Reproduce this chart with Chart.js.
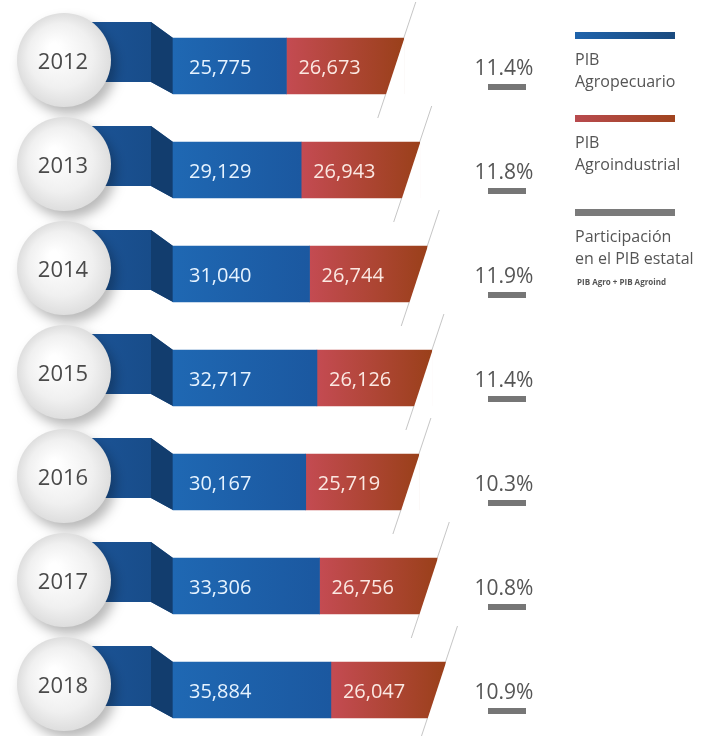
<!DOCTYPE html>
<html><head><meta charset="utf-8">
<script src="https://cdn.jsdelivr.net/npm/chart.js@4"></script>
<style>html,body{margin:0;padding:0;background:#fff;}#wrap{width:710px;height:736px;}</style>
</head><body><div id="wrap"><canvas id="c" width="710" height="736"></canvas></div>
<script>
const years = ['2012','2013','2014','2015','2016','2017','2018'];
const pibAgropecuario = [25775, 29129, 31040, 32717, 30167, 33306, 35884];
const pibAgroindustrial = [26673, 26943, 26744, 26126, 25719, 26756, 26047];
const participacion = [11.4, 11.8, 11.9, 11.4, 10.3, 10.8, 10.9];
const legendItems = [
  {lines:['PIB','Agropecuario'], c1:'#1f63ab', c2:'#1a4a7e'},
  {lines:['PIB','Agroindustrial'], c1:'#b84a4e', c2:'#a0441f'},
  {lines:['Participación','en el PIB estatal'], c1:'#7a7a7a', c2:'#7a7a7a', note:'PIB Agro + PIB Agroind'}
];
const FONT = '"Open Sans", "Noto Sans", sans-serif';
const fmt = v => v.toLocaleString('en-US');

function barGrad(ctx, startArr, lenArr, cA, cB, fallback){
  const chart = ctx.chart;
  if (!chart.chartArea || ctx.type !== 'data') return fallback;
  const xs = chart.scales.x, i = ctx.dataIndex;
  const s = startArr ? startArr[i] : 0;
  const x0 = xs.getPixelForValue(s), x1 = xs.getPixelForValue(s + lenArr[i]);
  const g = chart.ctx.createLinearGradient(x0, 0, x1, 0);
  g.addColorStop(0, cA); g.addColorStop(1, cB);
  return g;
}

const deco = {
  id: 'deco',
  beforeDatasetsDraw(chart){
    const c = chart.ctx;
    const meta = chart.getDatasetMeta(0);
    meta.data.forEach((b, i) => {
      const y = b.y, bt = y - 28, bb = y + 28, xs = b.base;
      const cx = 64, cy = y - 6, r = 47;
      c.save();
      // ribbon
      let g = c.createLinearGradient(cx, 0, xs, 0);
      g.addColorStop(0, '#1c569b'); g.addColorStop(1, '#174a85');
      c.fillStyle = g;
      c.beginPath();
      c.moveTo(cx, bt - 16); c.lineTo(xs - 22, bt - 16); c.lineTo(xs, bt);
      c.lineTo(xs, bb); c.lineTo(xs - 22, bb - 12); c.lineTo(cx, bb - 12);
      c.closePath(); c.fill();
      c.fillStyle = '#123d6e';
      c.beginPath();
      c.moveTo(xs - 22, bt - 16); c.lineTo(xs, bt); c.lineTo(xs, bb); c.lineTo(xs - 22, bb - 12);
      c.closePath(); c.fill();
      // circle
      c.shadowColor = 'rgba(0,0,0,0.28)';
      c.shadowBlur = 12; c.shadowOffsetX = 5; c.shadowOffsetY = 7;
      const rg = c.createRadialGradient(cx - 10, cy - 12, 5, cx, cy, r);
      rg.addColorStop(0, '#ffffff'); rg.addColorStop(0.65, '#f0f0f0'); rg.addColorStop(1, '#dedede');
      c.fillStyle = rg;
      c.beginPath(); c.arc(cx, cy, r, 0, Math.PI * 2); c.fill();
      c.shadowColor = 'transparent';
      c.fillStyle = '#4a4a4a';
      c.font = '22px ' + FONT;
      c.textAlign = 'center'; c.textBaseline = 'middle';
      c.fillText(years[i], cx - 1, cy + 3);
      c.restore();
    });
  },
  afterDatasetsDraw(chart){
    const c = chart.ctx;
    const m0 = chart.getDatasetMeta(0), m1 = chart.getDatasetMeta(1);
    m1.data.forEach((b, i) => {
      const y = b.y, bt = y - 28, bb = y + 28, xe = b.x;
      c.save();
      // slanted end
      c.fillStyle = '#ffffff';
      c.beginPath();
      c.moveTo(xe + 1, bt - 1); c.lineTo(xe + 1, bb + 1); c.lineTo(xe - 18, bb + 1);
      c.closePath(); c.fill();
      c.strokeStyle = 'rgba(150,150,150,0.55)'; c.lineWidth = 1;
      c.beginPath();
      c.moveTo(xe + 12, bt - 36); c.lineTo(xe, bt);
      c.moveTo(xe - 18, bb); c.lineTo(xe - 26, bb + 24);
      c.stroke();
      // values
      c.font = '20px ' + FONT;
      c.textAlign = 'left'; c.textBaseline = 'middle';
      const blue = m0.data[i];
      c.fillStyle = '#e6f3ff';
      c.fillText(fmt(pibAgropecuario[i]), blue.base + 16, y + 2);
      c.fillStyle = '#fbe8e2';
      c.fillText(fmt(pibAgroindustrial[i]), b.base + 12, y + 2);
      // participation
      c.fillStyle = '#555555';
      c.font = '21px ' + FONT;
      c.textAlign = 'center';
      c.fillText(participacion[i].toFixed(1) + '%', 504, y + 3);
      c.fillStyle = '#767676';
      c.fillRect(488, y + 18, 38, 6);
      c.restore();
    });
    // legend
    c.save();
    const lx = 575;
    const ys = [35, 118, 212];
    legendItems.forEach((it, k) => {
      const ly = ys[k];
      const g = c.createLinearGradient(lx, 0, lx + 100, 0);
      g.addColorStop(0, it.c1); g.addColorStop(1, it.c2);
      c.fillStyle = g;
      c.fillRect(lx, ly - 3, 100, 7);
      c.fillStyle = '#555555';
      c.font = '16px ' + FONT;
      c.textAlign = 'left'; c.textBaseline = 'middle';
      it.lines.forEach((t, j) => c.fillText(t, lx, ly + 25 + j * 22));
      if (it.note){
        c.font = 'bold 8px ' + FONT;
        c.fillText(it.note, lx + 2, ly + 71);
      }
    });
    c.restore();
  }
};

new Chart(document.getElementById('c'), {
  type: 'bar',
  data: {
    labels: years,
    datasets: [
      {label:'PIB Agropecuario', data: pibAgropecuario, barThickness: 56, borderWidth: 0, clip: false,
       backgroundColor: ctx => barGrad(ctx, null, pibAgropecuario, '#1f68b3', '#1b58a0', '#1e63ae')},
      {label:'PIB Agroindustrial', data: pibAgroindustrial, barThickness: 56, borderWidth: 0, clip: false,
       backgroundColor: ctx => barGrad(ctx, pibAgropecuario, pibAgroindustrial, '#c44b52', '#9a401a', '#b04a3a')}
    ]
  },
  options: {
    indexAxis: 'y',
    responsive: false,
    devicePixelRatio: 1,
    animation: false,
    layout: {padding: {left: 173, right: 97, top: 66, bottom: 46}},
    scales: {
      x: {type: 'linear', stacked: true, min: 0, max: 100000, display: false},
      y: {type: 'category', stacked: true, offset: false, display: false}
    },
    plugins: {legend: {display: false}, tooltip: {enabled: false}}
  },
  plugins: [deco]
});
</script></body></html>
